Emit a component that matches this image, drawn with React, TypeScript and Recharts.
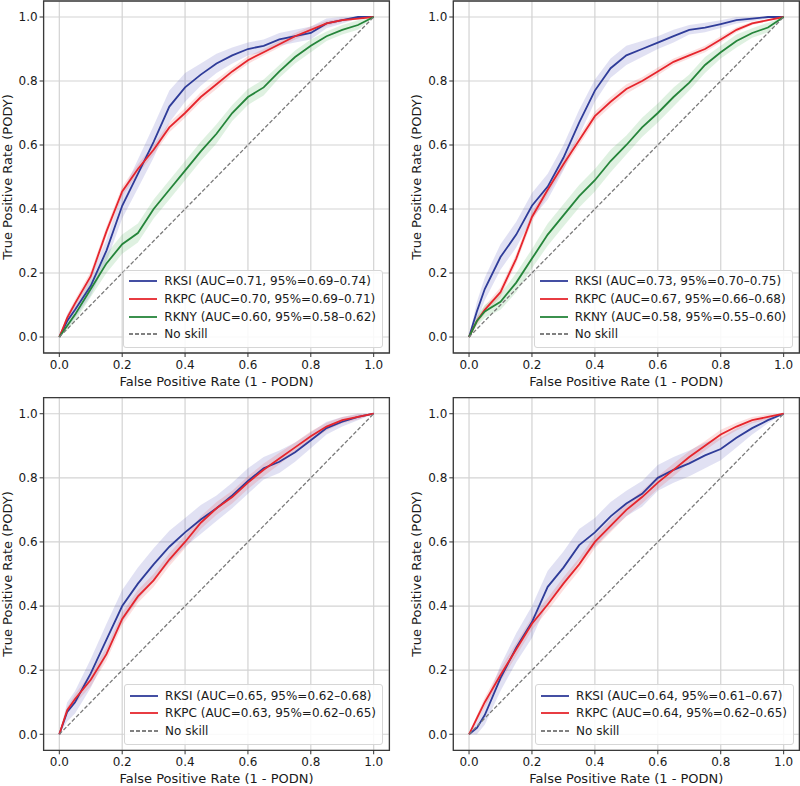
import React from 'react'
import { ComposedChart, Line, Area, XAxis, YAxis, CartesianGrid, ReferenceArea, Legend } from 'recharts'

// false positive rate grid shared by every curve
const fpr = [0, 0.025, 0.05, 0.1, 0.15, 0.2, 0.25, 0.3, 0.35, 0.4, 0.45, 0.5, 0.55, 0.6, 0.65, 0.7, 0.75, 0.8, 0.85, 0.9, 0.95, 1.0]
const ticks = [0, 0.2, 0.4, 0.6, 0.8, 1.0]

// top left
const p1Rksi = [0, 0.05, 0.085, 0.16, 0.27, 0.41, 0.51, 0.61, 0.72, 0.78, 0.82, 0.855, 0.88, 0.9, 0.91, 0.93, 0.94, 0.95, 0.98, 0.99, 1.0, 1.0]
const p1RksiW = [0, 0.02, 0.025, 0.03, 0.035, 0.04, 0.045, 0.05, 0.05, 0.045, 0.035, 0.03, 0.025, 0.02, 0.02, 0.02, 0.02, 0.02, 0.015, 0.01, 0.005, 0]
const p1Rkpc = [0, 0.06, 0.105, 0.19, 0.33, 0.455, 0.525, 0.585, 0.655, 0.7, 0.75, 0.79, 0.83, 0.865, 0.89, 0.915, 0.94, 0.96, 0.98, 0.99, 0.995, 1.0]
const p1RkpcW = [0, 0.01, 0.012, 0.015, 0.015, 0.015, 0.015, 0.015, 0.015, 0.015, 0.015, 0.015, 0.012, 0.012, 0.01, 0.01, 0.01, 0.01, 0.008, 0.005, 0.003, 0]
const p1Rkny = [0, 0.035, 0.07, 0.15, 0.23, 0.29, 0.325, 0.4, 0.46, 0.52, 0.58, 0.635, 0.7, 0.75, 0.78, 0.83, 0.875, 0.91, 0.94, 0.96, 0.975, 1.0]
const p1RknyW = [0, 0.015, 0.02, 0.025, 0.03, 0.03, 0.03, 0.03, 0.03, 0.03, 0.03, 0.03, 0.025, 0.025, 0.025, 0.02, 0.02, 0.02, 0.015, 0.015, 0.015, 0]

// top right
const p2Rksi = [0, 0.08, 0.15, 0.25, 0.32, 0.41, 0.47, 0.56, 0.67, 0.77, 0.84, 0.88, 0.9, 0.92, 0.94, 0.96, 0.967, 0.978, 0.99, 0.995, 1.0, 1.0]
const p2RksiW = [0, 0.03, 0.035, 0.04, 0.04, 0.04, 0.04, 0.04, 0.04, 0.035, 0.03, 0.03, 0.025, 0.02, 0.02, 0.015, 0.015, 0.012, 0.01, 0.008, 0.005, 0]
const p2Rkpc = [0, 0.05, 0.085, 0.14, 0.245, 0.375, 0.46, 0.54, 0.615, 0.69, 0.735, 0.775, 0.8, 0.83, 0.86, 0.88, 0.9, 0.93, 0.96, 0.98, 0.99, 1.0]
const p2RkpcW = [0, 0.01, 0.012, 0.015, 0.015, 0.015, 0.015, 0.015, 0.015, 0.015, 0.015, 0.015, 0.012, 0.012, 0.01, 0.01, 0.01, 0.01, 0.008, 0.005, 0.003, 0]
const p2Rkny = [0, 0.05, 0.08, 0.11, 0.17, 0.245, 0.32, 0.38, 0.44, 0.49, 0.55, 0.6, 0.655, 0.7, 0.75, 0.795, 0.85, 0.89, 0.925, 0.95, 0.967, 1.0]
const p2RknyW = [0, 0.015, 0.02, 0.025, 0.03, 0.03, 0.035, 0.035, 0.035, 0.035, 0.035, 0.03, 0.03, 0.03, 0.03, 0.025, 0.025, 0.02, 0.02, 0.015, 0.015, 0]

// bottom left
const p3Rksi = [0, 0.07, 0.1, 0.19, 0.295, 0.4, 0.47, 0.53, 0.585, 0.63, 0.67, 0.705, 0.745, 0.79, 0.83, 0.85, 0.88, 0.917, 0.955, 0.975, 0.99, 1.0]
const p3RksiW = [0, 0.03, 0.035, 0.045, 0.05, 0.05, 0.05, 0.05, 0.05, 0.045, 0.045, 0.04, 0.04, 0.04, 0.035, 0.035, 0.03, 0.025, 0.02, 0.015, 0.01, 0]
const p3Rkpc = [0, 0.075, 0.11, 0.17, 0.25, 0.36, 0.43, 0.48, 0.545, 0.6, 0.66, 0.705, 0.74, 0.785, 0.825, 0.86, 0.895, 0.93, 0.96, 0.98, 0.99, 1.0]
const p3RkpcW = [0, 0.01, 0.015, 0.02, 0.02, 0.02, 0.02, 0.02, 0.02, 0.02, 0.02, 0.02, 0.02, 0.02, 0.02, 0.018, 0.015, 0.015, 0.012, 0.01, 0.008, 0]

// bottom right
const p4Rksi = [0, 0.02, 0.06, 0.175, 0.27, 0.35, 0.46, 0.52, 0.59, 0.63, 0.68, 0.72, 0.75, 0.8, 0.825, 0.845, 0.87, 0.89, 0.925, 0.955, 0.98, 1.0]
const p4RksiW = [0, 0.02, 0.03, 0.04, 0.045, 0.05, 0.05, 0.05, 0.05, 0.045, 0.045, 0.04, 0.04, 0.04, 0.04, 0.04, 0.04, 0.035, 0.03, 0.02, 0.01, 0]
const p4Rkpc = [0, 0.05, 0.1, 0.185, 0.265, 0.345, 0.405, 0.47, 0.53, 0.6, 0.65, 0.7, 0.74, 0.785, 0.825, 0.865, 0.9, 0.935, 0.96, 0.98, 0.99, 1.0]
const p4RkpcW = [0, 0.01, 0.015, 0.02, 0.02, 0.02, 0.02, 0.02, 0.02, 0.02, 0.02, 0.02, 0.02, 0.02, 0.02, 0.018, 0.015, 0.015, 0.012, 0.01, 0.008, 0]

const FONT = '"DejaVu Sans", sans-serif'
const COLORS: Record<string, string> = { rksi: '#2f3c99', rkpc: '#e6262d', rkny: '#25853a' }
const BANDS: Record<string, string> = { rksi: '#4444b4', rkpc: '#ee3535', rkny: '#35a545' }

type Series = { key: string; name: string; tpr: number[]; w: number[] }

const clamp = (v: number) => Math.max(0, Math.min(1, v))

function buildRows(series: Series[]) {
  return fpr.map((x, i) => {
    const row: any = { fpr: x, skill: x }
    series.forEach(s => {
      row[s.key] = s.tpr[i]
      row[s.key + 'Band'] = [clamp(s.tpr[i] - s.w[i]), clamp(s.tpr[i] + s.w[i])]
    })
    return row
  })
}

function LegendBox({ series }: { series: Series[] }) {
  const rows = [...series.map(s => ({ name: s.name, color: COLORS[s.key], dash: false })), { name: 'No skill', color: '#808080', dash: true }]
  return (
    <div style={{ background: 'rgba(255,255,255,0.85)', border: '1px solid #d6d6d6', borderRadius: 3, padding: '2px 6px 4px 5px', fontFamily: FONT, fontSize: 12, color: '#1a1a1a', whiteSpace: 'nowrap' }}>
      {rows.map(r => (
        <div key={r.name} style={{ display: 'flex', alignItems: 'center', height: 17.6 }}>
          <svg width={28} height={6} style={{ marginRight: 7 }}>
            <line x1={0} y1={3} x2={28} y2={3} stroke={r.color} strokeWidth={1.8} strokeDasharray={r.dash ? '4 2' : undefined} />
          </svg>
          <span>{r.name}</span>
        </div>
      ))}
    </div>
  )
}

type PanelProps = { series: Series[]; left: number; top: number; yw: number; mr: number; mt: number; xh: number; lr: number; lb: number }

function Panel({ series, left, top, yw, mr, mt, xh, lr, lb }: PanelProps) {
  const data = buildRows(series)
  const tickStyle = { fill: '#1a1a1a', fontSize: 12, fontFamily: FONT }
  return (
    <div style={{ position: 'absolute', left, top, width: 400, height: 393 }}>
      <ComposedChart width={400} height={393} data={data} margin={{ top: mt, right: mr, left: 0, bottom: 0 }}>
        <CartesianGrid stroke="#d3d3d3" strokeWidth={1.2} />
        <XAxis
          type="number" dataKey="fpr" domain={[-0.05, 1.05]} ticks={ticks} height={xh}
          allowDataOverflow tick={tickStyle} tickLine={{ stroke: '#333' }} axisLine={false}
          tickSize={4} tickMargin={3} tickFormatter={(v: number) => v.toFixed(1)}
          label={{
            content: (p: any) => (
              <text x={p.viewBox.x + p.viewBox.width / 2} y={p.viewBox.y + 28} textAnchor="middle" dominantBaseline="central" fontSize={13} fontFamily={FONT} fill="#1a1a1a">
                False Positive Rate (1 - PODN)
              </text>
            ),
          }}
        />
        <YAxis
          type="number" domain={[-0.05, 1.05]} ticks={ticks} width={yw}
          allowDataOverflow tick={tickStyle} tickLine={{ stroke: '#333' }} axisLine={false}
          tickSize={4} tickMargin={2} tickFormatter={(v: number) => v.toFixed(1)}
          label={{
            content: (p: any) => {
              const cx = p.viewBox.x + p.viewBox.width - 36.6
              const cy = p.viewBox.y + p.viewBox.height / 2
              return (
                <text x={cx} y={cy} transform={`rotate(-90 ${cx} ${cy})`} textAnchor="middle" dominantBaseline="central" fontSize={13} fontFamily={FONT} fill="#1a1a1a">
                  True Positive Rate (PODY)
                </text>
              )
            },
          }}
        />
        {series.map(s => (
          <Area key={s.key + 'b'} dataKey={s.key + 'Band'} type="linear" stroke="none" fill={BANDS[s.key]} fillOpacity={0.16} isAnimationActive={false} activeDot={false} legendType="none" />
        ))}
        {series.map(s => (
          <Line key={s.key} dataKey={s.key} name={s.name} type="linear" stroke={COLORS[s.key]} strokeWidth={1.8} dot={false} activeDot={false} isAnimationActive={false} />
        ))}
        <Line dataKey="skill" name="No skill" type="linear" stroke="#7a7a7a" strokeWidth={1.3} strokeDasharray="4 2" dot={false} activeDot={false} isAnimationActive={false} />
        <ReferenceArea x1={-0.05} x2={1.05} y1={-0.05} y2={1.05} fill="none" stroke="#3a3a3a" strokeWidth={1.3} />
        <Legend layout="vertical" align="center" verticalAlign="middle" wrapperStyle={{ right: lr, bottom: lb }} content={() => <LegendBox series={series} />} />
      </ComposedChart>
    </div>
  )
}

const topLeft: Series[] = [
  { key: 'rksi', name: 'RKSI (AUC=0.71, 95%=0.69\u20130.74)', tpr: p1Rksi, w: p1RksiW },
  { key: 'rkpc', name: 'RKPC (AUC=0.70, 95%=0.69\u20130.71)', tpr: p1Rkpc, w: p1RkpcW },
  { key: 'rkny', name: 'RKNY (AUC=0.60, 95%=0.58\u20130.62)', tpr: p1Rkny, w: p1RknyW },
]
const topRight: Series[] = [
  { key: 'rksi', name: 'RKSI (AUC=0.73, 95%=0.70\u20130.75)', tpr: p2Rksi, w: p2RksiW },
  { key: 'rkpc', name: 'RKPC (AUC=0.67, 95%=0.66\u20130.68)', tpr: p2Rkpc, w: p2RkpcW },
  { key: 'rkny', name: 'RKNY (AUC=0.58, 95%=0.55\u20130.60)', tpr: p2Rkny, w: p2RknyW },
]
const bottomLeft: Series[] = [
  { key: 'rksi', name: 'RKSI (AUC=0.65, 95%=0.62\u20130.68)', tpr: p3Rksi, w: p3RksiW },
  { key: 'rkpc', name: 'RKPC (AUC=0.63, 95%=0.62\u20130.65)', tpr: p3Rkpc, w: p3RkpcW },
]
const bottomRight: Series[] = [
  { key: 'rksi', name: 'RKSI (AUC=0.64, 95%=0.61\u20130.67)', tpr: p4Rksi, w: p4RksiW },
  { key: 'rkpc', name: 'RKPC (AUC=0.64, 95%=0.62\u20130.65)', tpr: p4Rkpc, w: p4RkpcW },
]

export default function App() {
  return (
    <div style={{ position: 'absolute', left: 0, top: 0, width: 800, height: 786, background: '#fff' }}>
      <Panel series={topLeft} left={0} top={0} yw={43.6} mr={10.6} mt={1} xh={40} lr={17} lb={45} />
      <Panel series={topRight} left={400} top={0} yw={53.3} mr={0.6} mt={1} xh={40} lr={6.7} lb={45} />
      <Panel series={bottomLeft} left={0} top={393} yw={43.6} mr={10.6} mt={4.7} xh={35.7} lr={17} lb={41.3} />
      <Panel series={bottomRight} left={400} top={393} yw={53.3} mr={0.6} mt={4.7} xh={35.7} lr={6} lb={41.3} />
    </div>
  )
}
